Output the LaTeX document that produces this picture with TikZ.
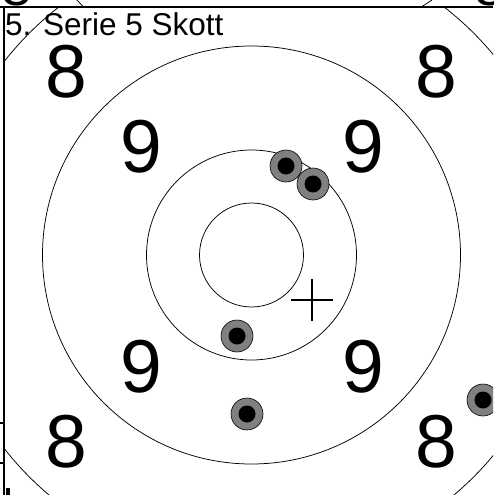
\documentclass[tikz,border=0pt]{standalone}
\usepackage{fontspec}
\setmainfont{Liberation Sans}
\begin{document}
\begin{tikzpicture}[x=1pt,y=-1pt,
  ring/.style={draw=black,line width=0.75pt},
  framel/.style={draw=black,line width=1.8pt},
  num/.style={font=\fontsize{75}{75}\selectfont,inner sep=0pt,anchor=base},
  fragnum/.style={font=\fontsize{55}{55}\selectfont,inner sep=0pt,anchor=base},
  title/.style={font=\fontsize{31.5}{31.5}\selectfont,inner sep=0pt,anchor=base west},
  shot/.style={circle,draw=black,line width=0.6pt,fill=gray,minimum size=32pt,inner sep=0pt},
  hole/.style={circle,fill=black,minimum size=17pt,inner sep=0pt},
  crossl/.style={draw=black,line width=1.4pt}]
\useasboundingbox (0,0) rectangle (493,495);
\clip (0,0) rectangle (493,495);
% fragments of the previous target above the frame
\begin{scope}
  \clip (0,0) rectangle (493,6.5);
  \node[fragnum] (p8a) at (16.5,5.5) {8};
  \node[fragnum] (p8b) at (490,5.5) {8};
  \draw[ring] (77,0) -- (83,6.5);
  \draw[ring] (422,6.5) -- (432,0);
\end{scope}
% target
\begin{scope}
  \clip (4,7) rectangle (493,495);
  \coordinate (c) at (251.5,255);
  \draw[ring] (c) circle[radius=52];
  \draw[ring] (c) circle[radius=105];
  \draw[ring] (c) circle[radius=209];
  \draw[ring] (c) circle[radius=314];
  \node[num] (n8a) at (66.5,97) {8};
  \node[num] (n8b) at (436,97) {8};
  \node[num] (n8c) at (66.5,467) {8};
  \node[num] (n8d) at (436,467) {8};
  \node[num] (n9a) at (141,172) {9};
  \node[num] (n9b) at (363,172) {9};
  \node[num] (n9c) at (141,392) {9};
  \node[num] (n9d) at (363,392) {9};
  \node[title] (t) at (5,36) {5. Serie 5 Skott};
  \coordinate (x) at (312,300);
  \draw[crossl] ([yshift=21pt]x) -- ([yshift=-21pt]x);
  \draw[crossl] ([xshift=-21pt]x) -- ([xshift=21pt]x);
  \foreach \n/\p in {1/{(286,166)},2/{(313,184)},3/{(237,336)},4/{(247,414)},5/{(483,400)}}{
    \node[shot] (s\n) at \p {};
    \node[hole] (h\n) at (s\n.center) {};
  }
\end{scope}
% frame
\draw[framel] (0,7) -- (493,7);
\draw[framel] (4,7) -- (4,495);
\draw[framel] (0,423) -- (4,423);
\draw[framel] (0,463) -- (4,463);
\fill[black] (6,488) rectangle (10,495);
\end{tikzpicture}
\end{document}
